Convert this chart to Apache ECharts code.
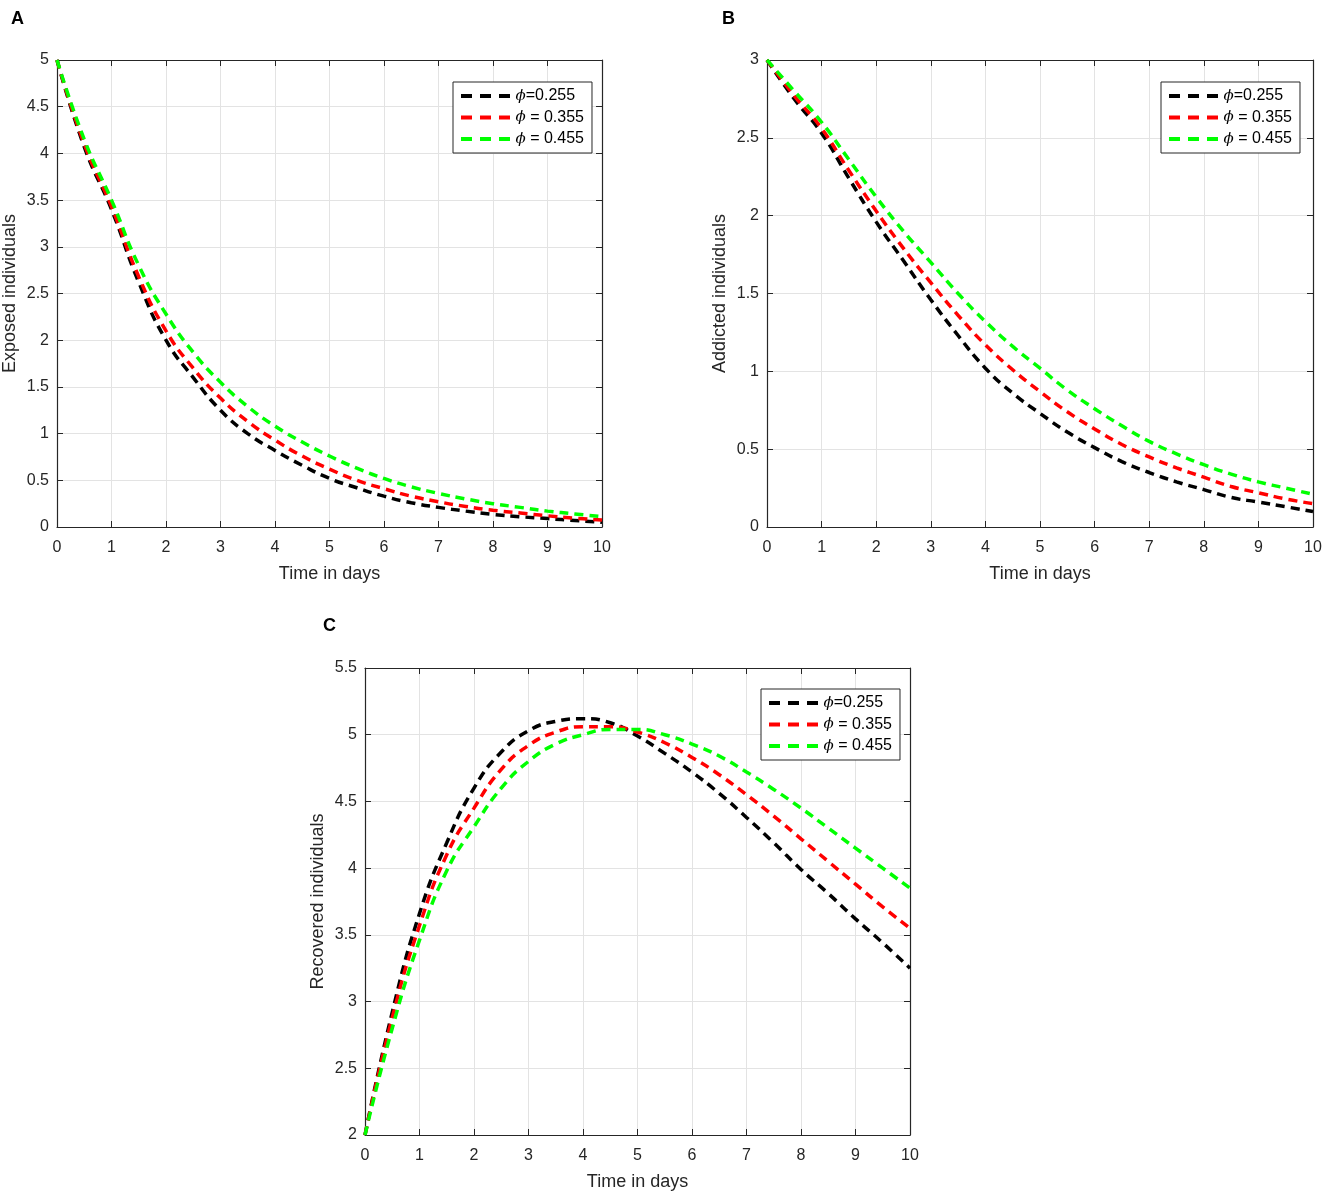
<!DOCTYPE html>
<html>
<head>
<meta charset="utf-8">
<title>Exposed, addicted and recovered individuals</title>
<script src="https://cdn.jsdelivr.net/npm/echarts@6/dist/echarts.min.js"></script>
<style>
    html, body { margin: 0; padding: 0; background: #fff; }
    #main { width: 1325px; height: 1195px; }
</style>
</head>
<body>
<div id="main"></div>
<script>
// time axis (days), one point every half day
var tDays = [0, 0.5, 1, 1.5, 2, 2.5, 3, 3.5, 4, 4.5, 5, 5.5, 6, 6.5, 7, 7.5, 8, 8.5, 9, 9.5, 10];

var phiNames = ["ϕ=0.255", "ϕ = 0.355", "ϕ = 0.455"];
var phiColors = ["#000000", "#ff0000", "#00ff00"];

// A - exposed individuals
var exposed255 = [5, 4.07, 3.40, 2.62, 2.00, 1.60, 1.25, 1.00, 0.82, 0.66, 0.52, 0.42, 0.33, 0.26, 0.21, 0.17, 0.135, 0.11, 0.09, 0.07, 0.05];
var exposed355 = [5, 4.10, 3.43, 2.68, 2.10, 1.70, 1.38, 1.13, 0.93, 0.76, 0.62, 0.50, 0.41, 0.33, 0.27, 0.22, 0.18, 0.15, 0.12, 0.095, 0.075];
var exposed455 = [5, 4.15, 3.50, 2.80, 2.28, 1.87, 1.55, 1.29, 1.08, 0.91, 0.76, 0.63, 0.52, 0.43, 0.36, 0.30, 0.25, 0.21, 0.17, 0.14, 0.11];

// B - addicted individuals
var addicted255 = [3, 2.75, 2.53, 2.24, 1.96, 1.71, 1.46, 1.23, 1.02, 0.86, 0.73, 0.61, 0.51, 0.42, 0.35, 0.29, 0.24, 0.19, 0.16, 0.13, 0.10];
var addicted355 = [3, 2.77, 2.56, 2.29, 2.03, 1.79, 1.57, 1.36, 1.17, 1.01, 0.87, 0.74, 0.63, 0.53, 0.45, 0.38, 0.32, 0.26, 0.22, 0.18, 0.15];
var addicted455 = [3, 2.80, 2.60, 2.36, 2.12, 1.90, 1.70, 1.50, 1.32, 1.16, 1.02, 0.88, 0.76, 0.65, 0.55, 0.47, 0.40, 0.34, 0.29, 0.25, 0.21];

// C - recovered individuals
var recovered255 = [2, 2.92, 3.66, 4.19, 4.60, 4.87, 5.03, 5.10, 5.12, 5.09, 4.99, 4.86, 4.72, 4.56, 4.38, 4.19, 3.99, 3.81, 3.62, 3.44, 3.25];
var recovered355 = [2, 2.88, 3.57, 4.10, 4.45, 4.74, 4.92, 5.02, 5.06, 5.06, 5.02, 4.94, 4.83, 4.70, 4.55, 4.39, 4.22, 4.05, 3.88, 3.71, 3.55];
var recovered455 = [2, 2.80, 3.46, 3.98, 4.31, 4.60, 4.80, 4.93, 5.00, 5.04, 5.04, 5.00, 4.93, 4.84, 4.72, 4.59, 4.45, 4.30, 4.15, 4.00, 3.85];

// y ranges of the three panels
var yMin = [0, 0, 2];
var yMax = [5, 3, 5.5];
var yNames = ["Exposed individuals", "Addicted individuals", "Recovered individuals"];
var panelData = [
    [exposed255, exposed355, exposed455],
    [addicted255, addicted355, addicted455],
    [recovered255, recovered355, recovered455]
];

var myChart = echarts.init(document.getElementById("main"), null, {renderer: "canvas"});

var font = "Liberation Sans, Arial, Helvetica, sans-serif";
var axisColor = "#262626";

// plot boxes, in pixels
var grids = [
    {left: 57, top: 60, width: 545, height: 467},
    {left: 767, top: 60, width: 546, height: 467},
    {left: 365, top: 668, width: 545, height: 467}
];
var legendPos = [
    {left: 453, top: 82},
    {left: 1161, top: 82},
    {left: 761, top: 689}
];

// three short dashes, used as legend icon
var dashIcon = "path://M0,0H11V4H0Z M19,0H30V4H19Z M38,0H49V4H38Z";

var xAxes = [], yAxes = [], series = [], legends = [];

grids.forEach(function (g, i) {
    // bottom x axis with labels and grid
    xAxes.push({
        type: "value", gridIndex: i, min: 0, max: 10, interval: 1, position: "bottom",
        name: "Time in days", nameLocation: "middle", nameGap: 38,
        nameTextStyle: {fontFamily: font, fontSize: 18, color: axisColor},
        axisLine: {onZero: false, lineStyle: {color: axisColor, width: 1.2}},
        axisTick: {inside: true, length: 6, lineStyle: {color: axisColor}},
        axisLabel: {fontFamily: font, fontSize: 16, color: axisColor, margin: 13},
        splitLine: {show: true, lineStyle: {color: "#e3e3e3", width: 1}}
    });
    // left y axis
    yAxes.push({
        type: "value", gridIndex: i, min: yMin[i], max: yMax[i], interval: 0.5, position: "left",
        name: yNames[i], nameLocation: "middle", nameGap: 38, nameRotate: 90,
        nameTextStyle: {fontFamily: font, fontSize: 18, color: axisColor},
        axisLine: {show: true, onZero: false, lineStyle: {color: axisColor, width: 1.2}},
        axisTick: {show: true, inside: true, length: 6, lineStyle: {color: axisColor}},
        axisLabel: {fontFamily: font, fontSize: 16, color: axisColor, margin: 8},
        splitLine: {show: true, lineStyle: {color: "#e3e3e3", width: 1}}
    });
});

// top / right axes just close the box (ticks inside, no labels)
grids.forEach(function (g, i) {
    xAxes.push({
        type: "value", gridIndex: i, min: 0, max: 10, interval: 1, position: "top",
        axisLine: {onZero: false, lineStyle: {color: axisColor, width: 1.2}},
        axisTick: {inside: true, length: 6, lineStyle: {color: axisColor}},
        axisLabel: {show: false}, splitLine: {show: false}
    });
    yAxes.push({
        type: "value", gridIndex: i, min: yMin[i], max: yMax[i], interval: 0.5, position: "right",
        axisLine: {show: true, onZero: false, lineStyle: {color: axisColor, width: 1.2}},
        axisTick: {show: true, inside: true, length: 6, lineStyle: {color: axisColor}},
        axisLabel: {show: false}, splitLine: {show: false}
    });
});

panelData.forEach(function (curves, i) {
    curves.forEach(function (vals, k) {
        series.push({
            type: "line",
            name: phiNames[k],
            xAxisIndex: i, yAxisIndex: i,
            smooth: true,
            symbol: "none",
            color: phiColors[k],
            lineStyle: {color: phiColors[k], width: 3.5, type: [9, 6]},
            data: tDays.map(function (t, j) { return [t, vals[j]]; }),
            z: 2 + k
        });
    });
    legends.push({
        left: legendPos[i].left, top: legendPos[i].top,
        orient: "vertical",
        data: phiNames.map(function (n) { return {name: n, icon: dashIcon}; }),
        backgroundColor: "#fff",
        borderColor: axisColor, borderWidth: 1,
        padding: [5, 8, 5, 8],
        itemWidth: 50, itemHeight: 4, itemGap: 3.5,
        selectedMode: false,
        formatter: function (name) {
            return "{p|ϕ}" + name.slice(1);
        },
        textStyle: {
            fontFamily: font, fontSize: 16, color: "#000", lineHeight: 18,
            rich: {p: {fontFamily: "DejaVu Serif, serif", fontStyle: "italic", fontSize: 15, color: "#000", lineHeight: 18}}
        }
    });
});

var option = {
    backgroundColor: "#fff",
    animation: false,
    // panel letters
    title: [
        {text: "A", left: 6, top: 5, textStyle: {fontFamily: font, fontWeight: "bold", fontSize: 18, color: "#000"}},
        {text: "B", left: 717, top: 5, textStyle: {fontFamily: font, fontWeight: "bold", fontSize: 18, color: "#000"}},
        {text: "C", left: 318, top: 612, textStyle: {fontFamily: font, fontWeight: "bold", fontSize: 18, color: "#000"}}
    ],
    grid: grids,
    xAxis: xAxes,
    yAxis: yAxes,
    legend: legends,
    series: series
};

myChart.setOption(option);
</script>
</body>
</html>
